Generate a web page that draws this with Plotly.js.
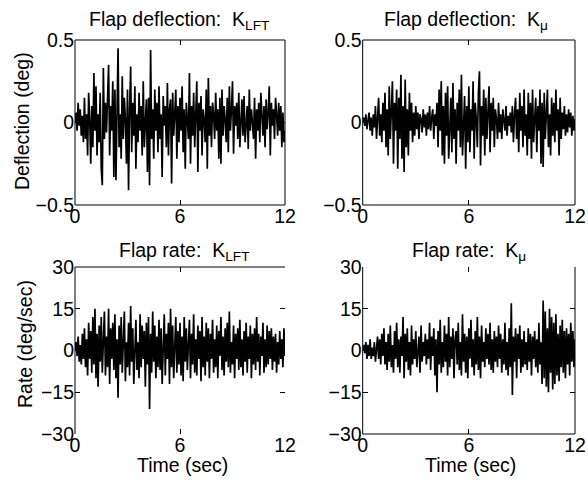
<!DOCTYPE html>
<html>
<head>
<meta charset="utf-8">
<script src="https://cdn.plot.ly/plotly-3.0.1.min.js"></script>
<style>html,body{margin:0;padding:0;background:#fff;}#chart{width:588px;height:480px;}</style>
</head>
<body>
<div id="chart"></div>
<script>
// Time span of every record (seconds)
const tStart = 0;
const tEnd = 12;

// Flap deflection, K_LFT (deg), sampled uniformly over 0..12 s
const deflLFT = [
  0.00, 0.06, -0.05, 0.12, -0.02, 0.08, -0.08, 0.04, -0.12, 0.15,
  -0.10, 0.05, -0.20, 0.18, 0.02, -0.25, 0.10, -0.15, 0.30, -0.05,
  0.22, -0.20, 0.05, -0.12, 0.18, -0.28, -0.38, 0.33, -0.10, 0.12,
  -0.06, 0.15, 0.35, -0.20, 0.10, -0.05, 0.25, -0.33, 0.20, -0.35,
  0.10, 0.45, -0.15, 0.05, -0.22, 0.28, -0.10, 0.15, 0.02, -0.25,
  0.20, -0.41, 0.08, 0.34, -0.18, 0.12, -0.08, 0.22, -0.28, 0.05,
  -0.12, 0.18, -0.05, 0.10, -0.20, 0.25, -0.15, 0.02, 0.14, -0.30,
  0.15, -0.38, 0.44, -0.10, 0.08, -0.22, 0.20, -0.05, 0.12, -0.18,
  0.22, -0.10, 0.05, -0.33, 0.16, -0.02, 0.10, -0.15, 0.24, -0.20,
  0.08, 0.14, -0.37, 0.18, -0.08, 0.05, 0.20, -0.22, 0.10, -0.12,
  0.15, -0.05, 0.22, -0.18, 0.08, -0.28, 0.12, 0.02, -0.10, 0.30,
  -0.25, 0.10, -0.08, 0.18, -0.15, 0.05, 0.25, -0.30, 0.12, -0.05,
  0.16, -0.20, 0.08, 0.02, -0.12, 0.20, -0.28, 0.27, -0.08, 0.10,
  -0.15, 0.12, 0.05, -0.10, 0.18, -0.05, 0.08, -0.22, 0.15, -0.25,
  0.20, -0.08, 0.10, 0.02, -0.12, 0.15, -0.18, 0.22, -0.05, 0.08,
  0.25, -0.19, 0.10, -0.02, 0.12, -0.10, 0.18, -0.15, 0.05, 0.14,
  -0.08, 0.16, -0.12, 0.04, 0.10, -0.16, 0.20, -0.05, 0.08, 0.00,
  -0.10, 0.15, -0.22, 0.08, -0.05, 0.12, -0.12, 0.18, 0.02, -0.08,
  0.10, -0.15, 0.14, -0.04, 0.06, 0.22, -0.20, 0.12, -0.02, 0.08,
  -0.10, 0.15, 0.05, -0.08, 0.12, -0.05, 0.10, -0.15, 0.06, -0.12, -0.05
];

// Flap deflection, K_mu (deg)
const deflMu = [
  0.00, 0.03, -0.02, 0.05, -0.04, 0.02, 0.06, -0.05, 0.03, -0.08,
  0.05, -0.03, 0.10, -0.10, 0.02, 0.15, -0.08, 0.05, -0.12, 0.12,
  -0.05, 0.18, -0.15, 0.08, -0.20, 0.22, -0.10, 0.05, 0.25, -0.25,
  0.12, -0.05, 0.20, -0.28, 0.15, -0.10, 0.29, -0.22, 0.10, -0.30,
  0.26, -0.15, 0.08, -0.20, 0.18, -0.05, 0.12, -0.12, 0.06, -0.08,
  0.10, -0.04, 0.06, -0.10, 0.05, 0.02, -0.06, 0.08, -0.03, 0.05,
  -0.08, 0.06, -0.04, 0.10, -0.05, 0.03, 0.08, -0.10, 0.05, -0.02,
  0.12, -0.15, 0.20, -0.05, 0.25, -0.20, 0.10, -0.25, 0.18, -0.08,
  0.22, -0.22, 0.05, 0.15, -0.18, 0.24, -0.10, 0.08, -0.25, 0.12,
  -0.05, 0.20, -0.15, 0.29, -0.20, 0.05, 0.16, -0.28, 0.10, -0.12,
  0.22, -0.18, 0.08, -0.05, 0.25, -0.22, 0.12, 0.02, -0.15, 0.18,
  0.31, -0.26, 0.10, -0.08, 0.20, -0.20, 0.15, -0.10, 0.05, 0.22,
  -0.18, 0.12, -0.05, 0.15, -0.15, 0.08, 0.02, -0.10, 0.12, -0.06,
  0.05, -0.10, 0.08, 0.02, -0.05, 0.10, -0.08, 0.04, -0.02, 0.06,
  -0.06, 0.10, -0.12, 0.05, 0.15, -0.10, 0.08, -0.18, 0.18, -0.05,
  0.10, -0.15, 0.20, -0.08, 0.05, -0.20, 0.18, -0.10, 0.12, -0.22,
  0.20, -0.12, 0.05, 0.15, -0.18, 0.10, -0.05, 0.20, -0.25, 0.12,
  -0.27, 0.18, -0.10, 0.08, 0.20, -0.15, 0.05, -0.20, 0.15, -0.08,
  0.12, -0.12, 0.20, -0.05, 0.08, -0.20, 0.15, -0.10, 0.06, -0.04,
  0.10, -0.08, 0.05, -0.06, 0.08, -0.03, 0.06, -0.08, 0.04, -0.05, 0.02
];

// Flap rate, K_LFT (deg/sec)
const rateLFT = [
  0, 3, -2, 5, -4, 2, -5, 6, -3, 8,
  -6, 4, -9, 10, -3, 7, -8, 12, -5, 15,
  -10, 6, -13, 9, -4, 12, -8, 3, 14, -9,
  5, -6, 15, -12, 8, -3, 10, -7, 13, -10,
  4, -17, 9, -5, 12, -8, 6, 14, -11, 3,
  -6, 10, -9, 16, -4, 8, -12, 5, 11, -7,
  3, -10, 13, -6, 9, -3, 7, -13, 10, -5,
  12, -21, 6, -8, 14, -4, 9, -10, 5, -6,
  11, -7, 8, -12, 4, 13, -9, 6, -3, 10,
  -12, 15, -6, 9, -10, 4, 12, -8, 7, -5,
  10, -9, 5, -11, 12, -4, 8, -7, 3, 11,
  -10, 6, -5, 13, -8, 4, -9, 9, -3, 7,
  -11, 12, -6, 5, -9, 10, -4, 8, -10, 6,
  -3, 11, -8, 4, -6, 9, -10, 7, -2, 12,
  -7, 5, -9, 8, -4, 10, -6, 14, -8, 3,
  -5, 9, -10, 6, -3, 8, -7, 11, -6, 4,
  -9, 7, -4, 10, -8, 5, -3, 9, -10, 6,
  -5, 8, -7, 12, -4, 6, -9, 5, -2, 10,
  -8, 4, -6, 9, -5, 7, -3, 8, -7, 5,
  -4, 6, -8, 3, -5, 7, -3, 4, -6, 8, -2
];

// Flap rate, K_mu (deg/sec)
const rateMu = [
  0, 2, -1, 3, -3, 2, -2, 4, -3, 1,
  -2, 3, -4, 2, 5, -3, 4, -5, 6, -2,
  8, -5, 3, -7, 6, -4, 9, -6, 2, -8,
  7, -3, 10, -6, 4, -8, 5, -2, 12, -10,
  6, -4, 8, -7, 3, -9, 9, -5, 4, -3,
  7, -6, 2, 5, -8, 9, -4, 3, -2, 6,
  -5, 4, -3, 10, -7, 5, -2, 8, -9, 4,
  -15, 7, -5, 11, -8, 3, -6, 9, -4, 6,
  -9, 12, -6, 5, -3, 8, -10, 4, 7, -5,
  10, -7, 3, -9, 13, -4, 6, -8, 5, -10,
  8, -3, 11, -6, 4, -9, 7, -5, 12, -7,
  5, -10, 9, -4, 3, -6, 8, -3, 6, -5,
  10, -7, 4, -8, 7, -4, 5, -6, 9, -3,
  6, -8, 4, -5, 10, -7, 3, -9, 8, -6,
  17, -16, 5, -4, 8, -10, 6, -3, 9, -8,
  4, -6, 7, -5, 3, -7, 8, -4, 6, -9,
  5, -3, 7, -6, 4, -8, 10, -5, 3, -12,
  18, -10, 14, -13, 8, -15, 15, -8, 12, -14,
  10, -12, 13, -9, 6, -11, 9, -6, 11, -8,
  7, -10, 8, -5, 6, -9, 10, -4, 7, -6, 4
];

// Tick values
const timeTicks = [0, 6, 12];
const deflTicks = [-0.5, 0, 0.5];
const rateTicks = [-30, -15, 0, 15, 30];

// Titles
const panelTitles = [
  'Flap deflection:&nbsp; K<sub>LFT</sub>',
  'Flap deflection:&nbsp; K<sub>\u03bc</sub>',
  'Flap rate:&nbsp; K<sub>LFT</sub>',
  'Flap rate:&nbsp; K<sub>\u03bc</sub>'
];
const yTitleTop = 'Deflection (deg)';
const yTitleBottom = 'Rate (deg/sec)';
const xTitle = 'Time (sec)';

function timeOf(arr) {
  const n = arr.length;
  return arr.map((_, i) => tStart + (tEnd - tStart) * i / (n - 1));
}

const W = 588, H = 480;
const px = x => x / W;
const py = y => 1 - y / H;

const FONT = 'Liberation Sans, Arial, Helvetica, sans-serif';
const FS = 19.5;
const line = {color: '#000', width: 1.7};

const series = [deflLFT, deflMu, rateLFT, rateMu];
const traces = series.map((s, k) => ({
  type: 'scatter', mode: 'lines', x: timeOf(s), y: s, line: line,
  xaxis: k === 0 ? 'x' : 'x' + (k + 1), yaxis: k === 0 ? 'y' : 'y' + (k + 1),
  hoverinfo: 'skip'
}));

function xax(dom, anchor) {
  return {domain: dom, anchor: anchor, range: [tStart, tEnd], tickvals: timeTicks,
    ticks: 'inside', ticklen: 5, tickcolor: '#000', tickwidth: 1, mirror: 'ticks',
    showline: false, showgrid: false, zeroline: false, ticklabelstandoff: -3,
    tickfont: {family: FONT, size: FS, color: '#000'}, fixedrange: true};
}
function yax(dom, anchor, rng, tv) {
  return {domain: dom, anchor: anchor, range: rng, tickvals: tv,
    ticks: 'inside', ticklen: 5, tickcolor: '#000', tickwidth: 1, mirror: 'ticks',
    showline: false, showgrid: false, zeroline: false,
    tickfont: {family: FONT, size: FS, color: '#000'}, fixedrange: true};
}

const xL = [px(75), px(285)], xR = [px(362.7), px(575)];
const yT = [py(205), py(40)], yB = [py(434), py(267)];

function seg(xr, yr, x0, y0, x1, y1) {
  return {type: 'line', xref: xr, yref: yr, x0: x0, y0: y0, x1: x1, y1: y1,
    line: {color: '#000', width: 1}, layer: 'above'};
}
const shapes = [
  // top-left: full box
  seg('x domain', 'y domain', 0, 0, 1, 0), seg('x domain', 'y domain', 0, 1, 1, 1),
  seg('x domain', 'y domain', 0, 0, 0, 1), seg('x domain', 'y domain', 1, 0, 1, 1),
  // top-right: full box
  seg('x2 domain', 'y2 domain', 0, 0, 1, 0), seg('x2 domain', 'y2 domain', 0, 1, 1, 1),
  seg('x2 domain', 'y2 domain', 0, 0, 0, 1), seg('x2 domain', 'y2 domain', 1, 0, 1, 1),
  // bottom-left: top and left lines
  seg('x3 domain', 'y3 domain', 0, 1, 1, 1), seg('x3 domain', 'y3 domain', 0, 0, 0, 1),
  // bottom-right: bottom, left and right lines
  seg('x4 domain', 'y4 domain', 0, 0, 1, 0), seg('x4 domain', 'y4 domain', 0, 0, 0, 1),
  seg('x4 domain', 'y4 domain', 1, 0, 1, 1)
];

function ann(text, x, y, extra) {
  return Object.assign({text: text, x: px(x), y: py(y), xref: 'paper', yref: 'paper',
    showarrow: false, xanchor: 'center', yanchor: 'middle',
    font: {family: FONT, size: FS, color: '#000'}}, extra || {});
}
const annotations = [
  ann(panelTitles[0], 179, 21), ann(panelTitles[1], 466, 21),
  ann(panelTitles[2], 184, 251), ann(panelTitles[3], 469, 251),
  ann(yTitleTop, 22, 121, {textangle: -90}),
  ann(yTitleBottom, 25, 344, {textangle: -90}),
  ann(xTitle, 182, 465), ann(xTitle, 470, 465)
];

const layout = {
  width: W, height: H, margin: {l: 0, r: 0, t: 0, b: 0},
  paper_bgcolor: '#fff', plot_bgcolor: '#fff', showlegend: false,
  xaxis: xax(xL, 'y'), yaxis: yax(yT, 'x', [-0.5, 0.5], deflTicks),
  xaxis2: xax(xR, 'y2'), yaxis2: yax(yT, 'x2', [-0.5, 0.5], deflTicks),
  xaxis3: xax(xL, 'y3'), yaxis3: yax(yB, 'x3', [-30, 30], rateTicks),
  xaxis4: xax(xR, 'y4'), yaxis4: yax(yB, 'x4', [-30, 30], rateTicks),
  shapes: shapes, annotations: annotations
};

Plotly.newPlot('chart', traces, layout, {staticPlot: true, displayModeBar: false});
</script>
</body>
</html>
